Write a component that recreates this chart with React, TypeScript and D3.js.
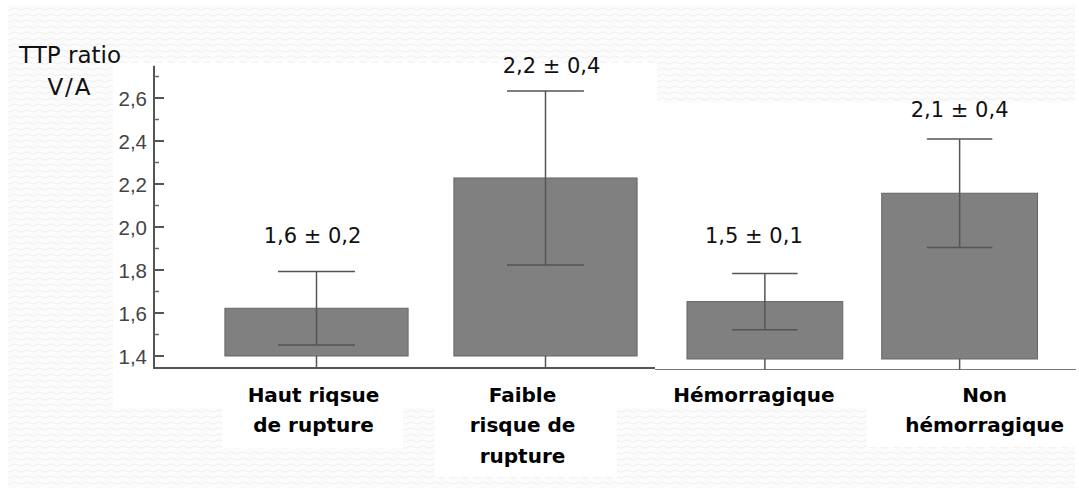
import React from "react";
import * as d3 from "d3";

const categories = ["Haut riqsue de rupture", "Faible risque de rupture", "Hémorragique", "Non hémorragique"];
const categoryLines = [["Haut riqsue", "de rupture"], ["Faible", "risque de", "rupture"], ["Hémorragique"], ["Non", "hémorragique"]];
const means = [1.622, 2.228, 1.667, 2.171];
const errors = [0.171, 0.405, 0.131, 0.252];
const valueLabels = ["1,6 ± 0,2", "2,2 ± 0,4", "1,5 ± 0,1", "2,1 ± 0,4"];
const majorTicks = [1.4, 1.6, 1.8, 2.0, 2.2, 2.4, 2.6];
const minorTicks = [1.5, 1.7, 1.9, 2.1, 2.3, 2.5, 2.7];
const yTitle = ["TTP ratio", "V/A"];

const W = 1079;
const H = 495;
const comic = "'DejaVu Sans', 'Noto Sans', sans-serif";

export default function App() {
  React.useEffect(() => {
    document.body.style.margin = "0";
  }, []);

  const leftCats = categories.slice(0, 2);
  const rightCats = categories.slice(2);

  const xLeft = d3.scaleBand<string>().domain(leftCats).range([202, 660]).paddingInner(0.2).paddingOuter(0.1);
  const xRight = d3.scaleBand<string>().domain(rightCats).range([667.5, 1057]).paddingInner(0.2).paddingOuter(0.1);
  const yLeft = d3.scaleLinear().domain([1.4, 2.6]).range([356, 98]);
  const yRight = d3.scaleLinear().domain([1.4, 2.6]).range([359, 101]);

  const axisX = 154;
  const axisTop = yLeft(2.75);
  const axisBottomLeft = 368;
  const axisBottomRight = 369.5;

  const labelLift = [29, 18, 30, 22];
  const valueDx = [-4, 6, -11, 0];
  const catDx = [-3, -23, -11, 25];

  const bars = categories.map((c, i) => {
    const left = i < 2;
    const x = left ? xLeft : xRight;
    const y = left ? yLeft : yRight;
    const x0 = x(c) as number;
    const bw = x.bandwidth();
    return {
      c,
      i,
      x0,
      bw,
      cx: x0 + bw / 2,
      top: y(means[i]),
      base: y(1.4),
      hi: y(means[i] + errors[i]),
      lo: y(means[i] - errors[i]),
      axisY: left ? axisBottomLeft : axisBottomRight,
    };
  });

  const whiteRects = [
    [113, 63, 544, 345],
    [657, 103, 418, 305],
    [222, 406, 181, 42],
    [435, 406, 182, 71],
    [867, 406, 208, 41],
  ];

  return (
    <svg width={W} height={H} style={{ display: "block" }}>
      <defs>
        <pattern id="wave" width="12" height="6" patternUnits="userSpaceOnUse">
          <rect width="12" height="6" fill="#fcfcfc" />
          <path d="M0 3 Q3 0.5 6 3 T12 3" fill="none" stroke="#efefef" strokeWidth="1" />
        </pattern>
      </defs>
      <rect x={0} y={0} width={W} height={H} fill="#ffffff" />
      <rect x={8} y={5} width={W - 12} height={H - 12} fill="url(#wave)" />
      {whiteRects.map((r, k) => (
        <rect key={k} x={r[0]} y={r[1]} width={r[2]} height={r[3]} fill="#ffffff" />
      ))}

      {/* y title */}
      <text x={70} y={63} textAnchor="middle" fontFamily={comic} fontSize={23} fill="#111">{yTitle[0]}</text>
      <text x={70} y={95} textAnchor="middle" fontFamily={comic} fontSize={23} letterSpacing={2} fill="#111">{yTitle[1]}</text>

      {/* y axis */}
      <line x1={axisX} x2={axisX} y1={axisTop} y2={axisBottomLeft + 1} stroke="#555" strokeWidth={2} />
      {majorTicks.map((t) => (
        <g key={t}>
          <line x1={axisX} x2={axisX + 10} y1={yLeft(t)} y2={yLeft(t)} stroke="#555" strokeWidth={2} />
          <text x={147} y={yLeft(t) + 7.5} textAnchor="end" fontFamily="'Liberation Sans', Arial, sans-serif" fontSize={20.5} fill="#444">
            {d3.format(".1f")(t).replace(".", ",")}
          </text>
        </g>
      ))}
      {minorTicks.map((t) => (
        <line key={t} x1={axisX} x2={axisX + 5} y1={yLeft(t)} y2={yLeft(t)} stroke="#666" strokeWidth={1.5} />
      ))}

      {/* x axes */}
      <line x1={axisX} x2={655} y1={axisBottomLeft} y2={axisBottomLeft} stroke="#555" strokeWidth={2} />
      <line x1={655} x2={1076} y1={axisBottomRight} y2={axisBottomRight} stroke="#777" strokeWidth={1.2} />

      {/* bars */}
      {bars.map((b) => (
        <g key={b.c}>
          <rect x={b.x0} y={b.top} width={b.bw} height={b.base - b.top} fill="#808080" stroke="#666" strokeWidth={1} />
          <line x1={b.cx} x2={b.cx} y1={b.base} y2={b.axisY} stroke="#555" strokeWidth={1.5} />
          <line x1={b.cx} x2={b.cx} y1={b.hi} y2={b.lo} stroke="#555" strokeWidth={1.5} />
          <line x1={b.cx - b.bw * 0.21} x2={b.cx + b.bw * 0.21} y1={b.hi} y2={b.hi} stroke="#555" strokeWidth={1.5} />
          <line x1={b.cx - b.bw * 0.21} x2={b.cx + b.bw * 0.21} y1={b.lo} y2={b.lo} stroke="#555" strokeWidth={1.5} />
          <text x={b.cx + valueDx[b.i]} y={b.hi - labelLift[b.i]} textAnchor="middle" fontFamily={comic} fontSize={21} fill="#111">
            {valueLabels[b.i]}
          </text>
          {categoryLines[b.i].map((ln, j) => (
            <text key={j} x={b.cx + catDx[b.i]} y={401.5 + j * 30.5} textAnchor="middle" fontFamily={comic} fontWeight="bold" fontSize={20} fill="#000">
              {ln}
            </text>
          ))}
        </g>
      ))}
    </svg>
  );
}
